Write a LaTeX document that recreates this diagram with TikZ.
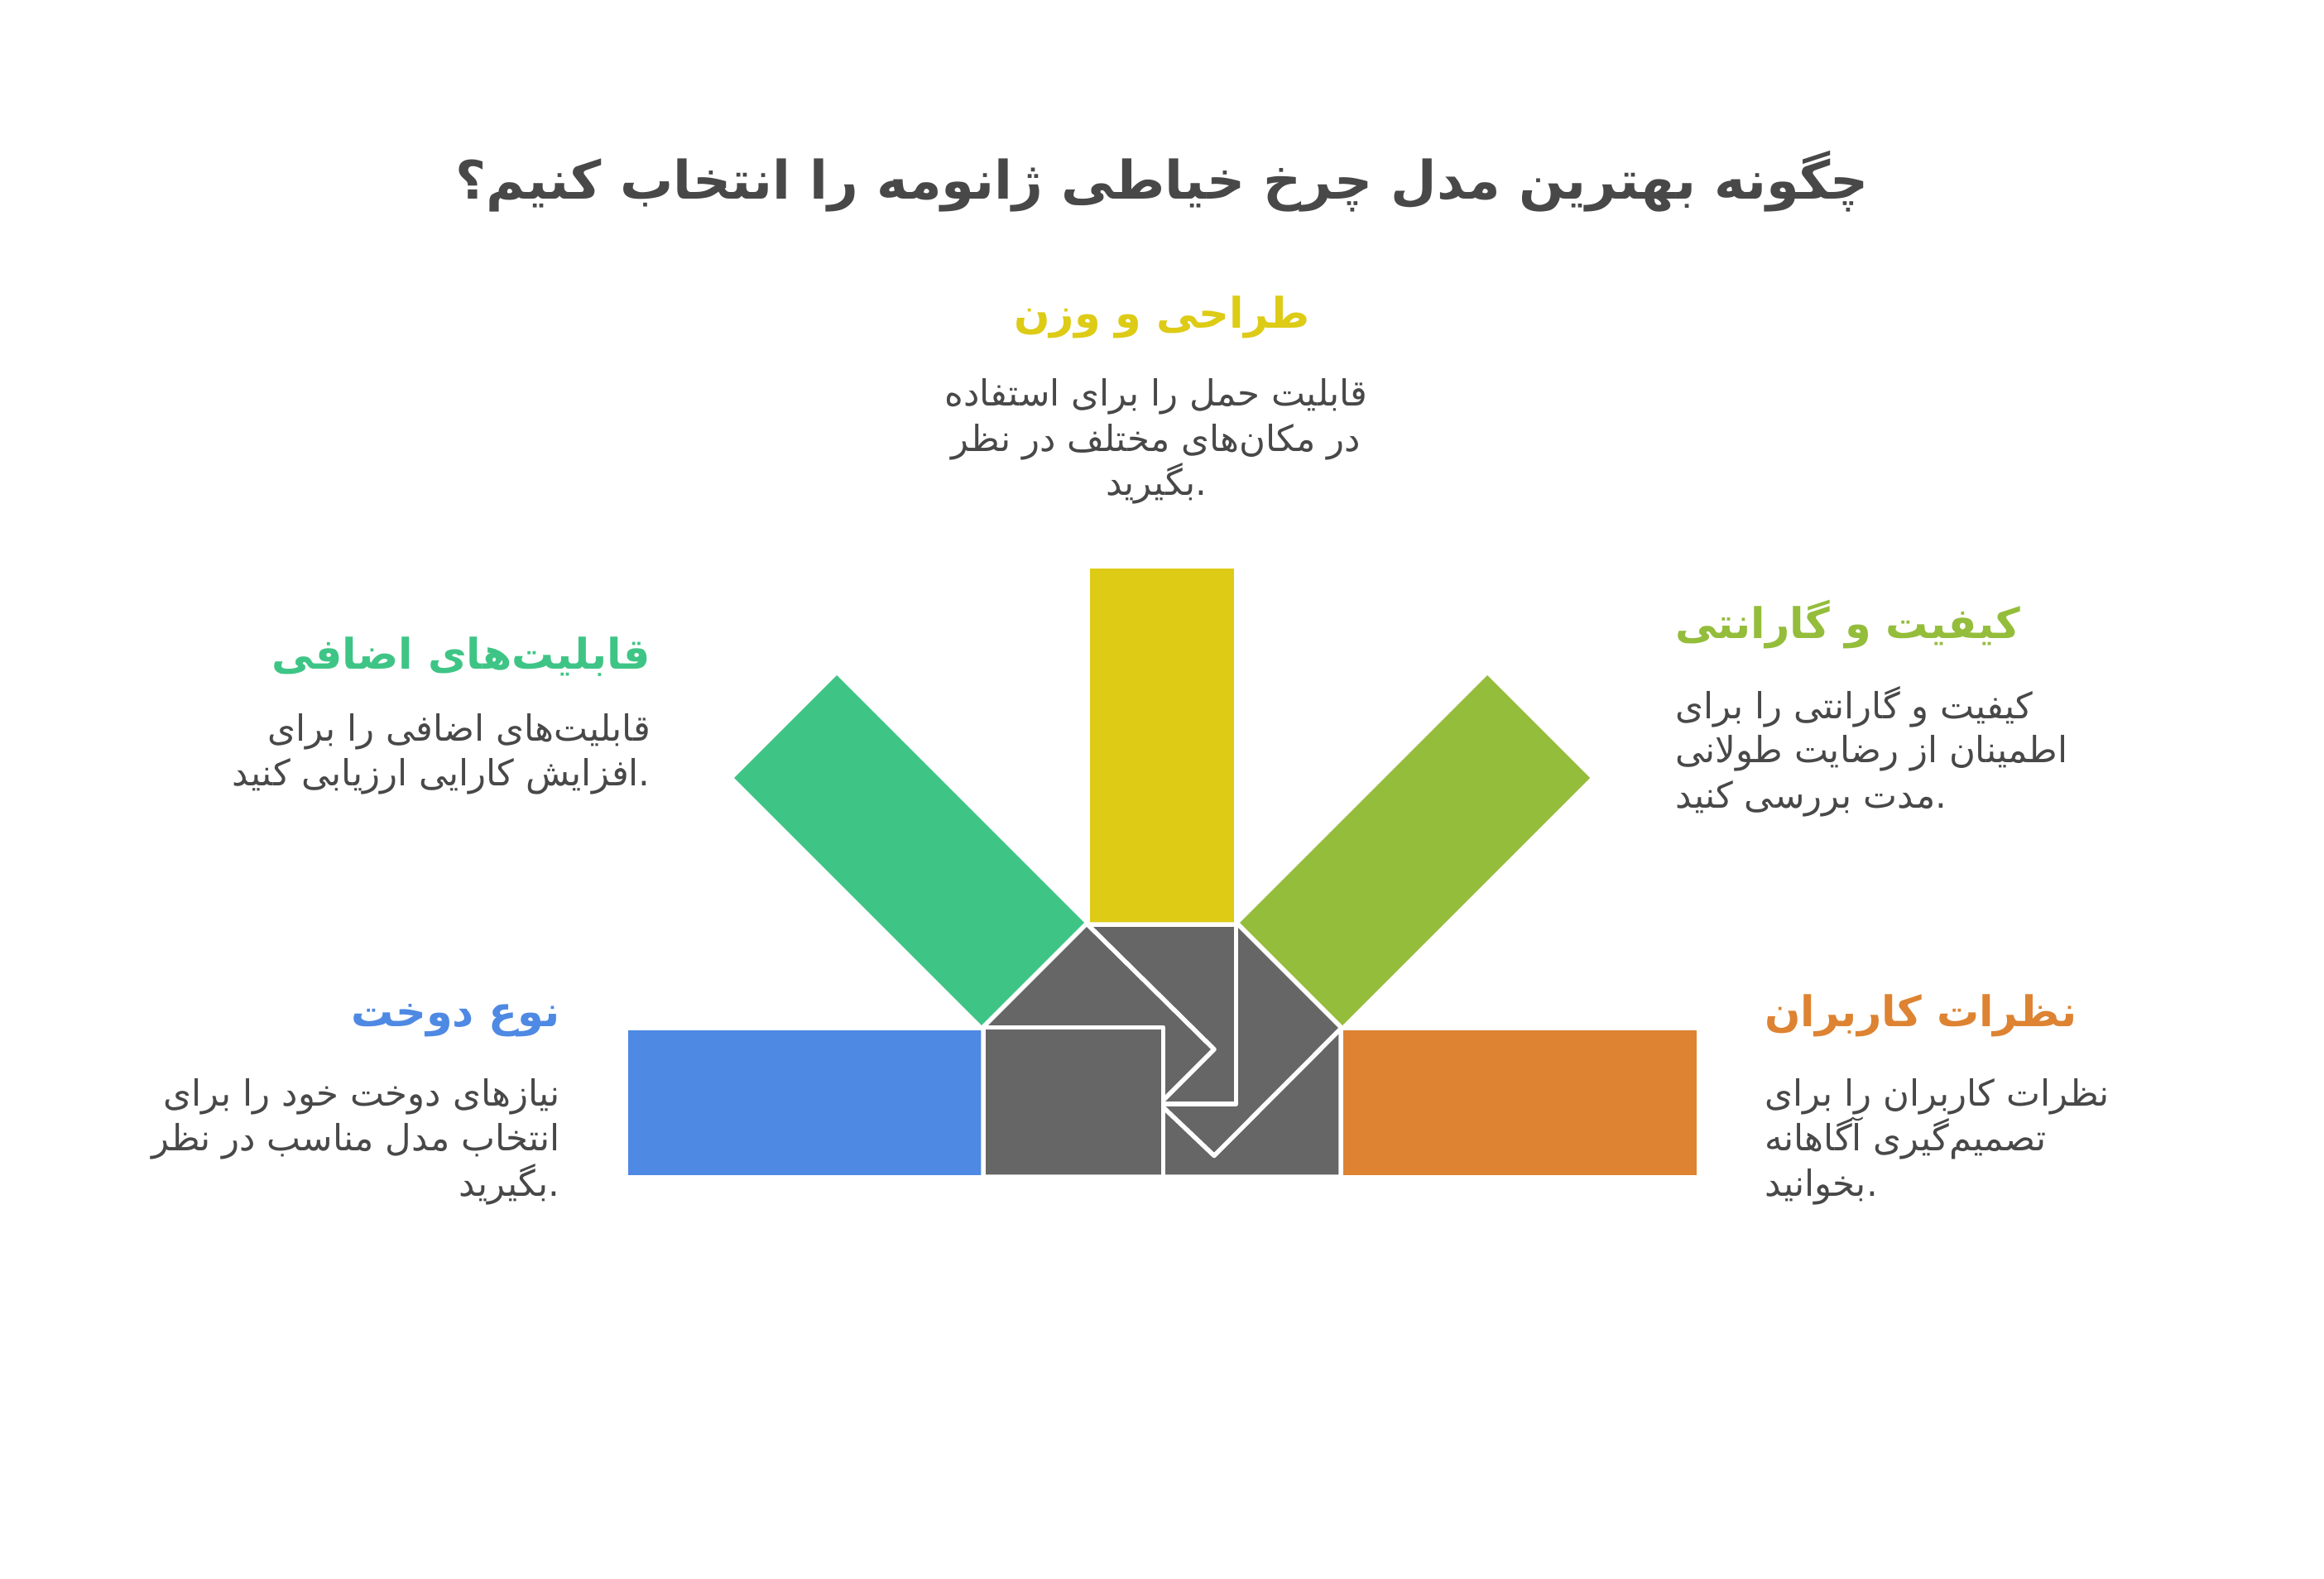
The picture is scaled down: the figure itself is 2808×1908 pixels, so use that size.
\documentclass[tikz,border=0pt]{standalone}
\usepackage{fontspec}
\newfontfamily\ar[Script=Arabic]{DejaVu Sans}
\TeXXeTstate=1
\definecolor{cyellow}{HTML}{DDCB16}
\definecolor{cgreen}{HTML}{3EC586}
\definecolor{clime}{HTML}{94BD3B}
\definecolor{cblue}{HTML}{4E89E3}
\definecolor{corange}{HTML}{DD8331}
\definecolor{cgray}{HTML}{666666}
\definecolor{ctext}{HTML}{484848}
\tikzset{
  bodytxt/.style={font=\ar\fontsize{43.5}{52}\selectfont, text=ctext, inner sep=0pt},
  headtxt/.style={font=\ar\bfseries\fontsize{51}{60}\selectfont, inner sep=0pt},
  titletxt/.style={font=\ar\bfseries\fontsize{64}{76}\selectfont, text=ctext, inner sep=0pt},
  sep/.style={draw=white, line width=5.5pt, line join=round},
}
\begin{document}
\begin{tikzpicture}[x=1pt,y=-1pt]
\useasboundingbox (0,0) rectangle (2808,1908);
\fill[white] (0,0) rectangle (2808,1908);

% bars
\fill[cyellow] (1317,687) rectangle (1491,1116);
\fill[cblue] (758.5,1245) rectangle (1188,1419.5);
\fill[corange] (1620,1245) rectangle (2050,1419.5);
\fill[cgreen] (1188,1241) -- (1312,1117) -- (1011,816) -- (887,940) -- cycle;
\fill[clime] (1496,1117) -- (1620,1241) -- (1921,940) -- (1797,816) -- cycle;

% central gray piece
\path[fill=cgray, sep] (1188,1422) -- (1188,1241) -- (1312,1117) -- (1496,1117) -- (1620,1241) -- (1620,1422) -- cycle;
\draw[sep] (1188,1241.5) -- (1405.5,1241.5) -- (1405.5,1425);
\draw[sep] (1314,1117) -- (1467,1268) -- (1405.5,1329.5);
\draw[sep] (1493.5,1117) -- (1493.5,1334) -- (1405.5,1334);
\draw[sep] (1405.5,1338) -- (1467,1396.5) -- (1620,1243);

% title
\node[titletxt, anchor=base] (title) at (1404,240) {\beginR چگونه بهترین مدل چرخ خیاطی ژانومه را انتخاب کنیم؟\endR};

% top (yellow)
\node[headtxt, text=cyellow, anchor=base] (yh) at (1404,396.7) {\beginR طراحی و وزن\endR};
\node[bodytxt, anchor=base] (y1) at (1397,490) {\beginR قابلیت حمل را برای استفاده\endR};
\node[bodytxt, anchor=base] (y2) at (1397,545) {\beginR در مکان‌های مختلف در نظر\endR};
\node[bodytxt, anchor=base] (y3) at (1397,598.3) {\beginR بگیرید\endR.};

% green (upper left)
\node[headtxt, text=cgreen, anchor=base east] (gh) at (786,808) {\beginR قابلیت‌های اضافی\endR};
\node[bodytxt, anchor=base east] (g1) at (786,895) {\beginR قابلیت‌های اضافی را برای\endR};
\node[bodytxt, anchor=base east] (g2) at (786,949.3) {\beginR افزایش کارایی ارزیابی کنید\endR.};

% lime (upper right)
\node[headtxt, text=clime, anchor=base west] (lh) at (2024,771.7) {\beginR کیفیت و گارانتی\endR};
\node[bodytxt, anchor=base west] (l1) at (2024,868.3) {\beginR کیفیت و گارانتی را برای\endR};
\node[bodytxt, anchor=base west] (l2) at (2024,921.7) {\beginR اطمینان از رضایت طولانی\endR};
\node[bodytxt, anchor=base west] (l3) at (2024,976.7) {\beginR مدت بررسی کنید\endR.};

% blue (lower left)
\node[headtxt, text=cblue, anchor=base east] (bh) at (677,1240.7) {\beginR نوع دوخت\endR};
\node[bodytxt, anchor=base east] (b1) at (677,1336.7) {\beginR نیازهای دوخت خود را برای\endR};
\node[bodytxt, anchor=base east] (b2) at (677,1390.7) {\beginR انتخاب مدل مناسب در نظر\endR};
\node[bodytxt, anchor=base east] (b3) at (677,1445) {\beginR بگیرید\endR.};

% orange (lower right)
\node[headtxt, text=corange, anchor=base west] (oh) at (2132,1240) {\beginR نظرات کاربران\endR};
\node[bodytxt, anchor=base west] (o1) at (2132,1336.7) {\beginR نظرات کاربران را برای\endR};
\node[bodytxt, anchor=base west] (o2) at (2132,1390.7) {\beginR تصمیم‌گیری آگاهانه\endR};
\node[bodytxt, anchor=base west] (o3) at (2132,1445) {\beginR بخوانید\endR.};
\end{tikzpicture}
\end{document}
